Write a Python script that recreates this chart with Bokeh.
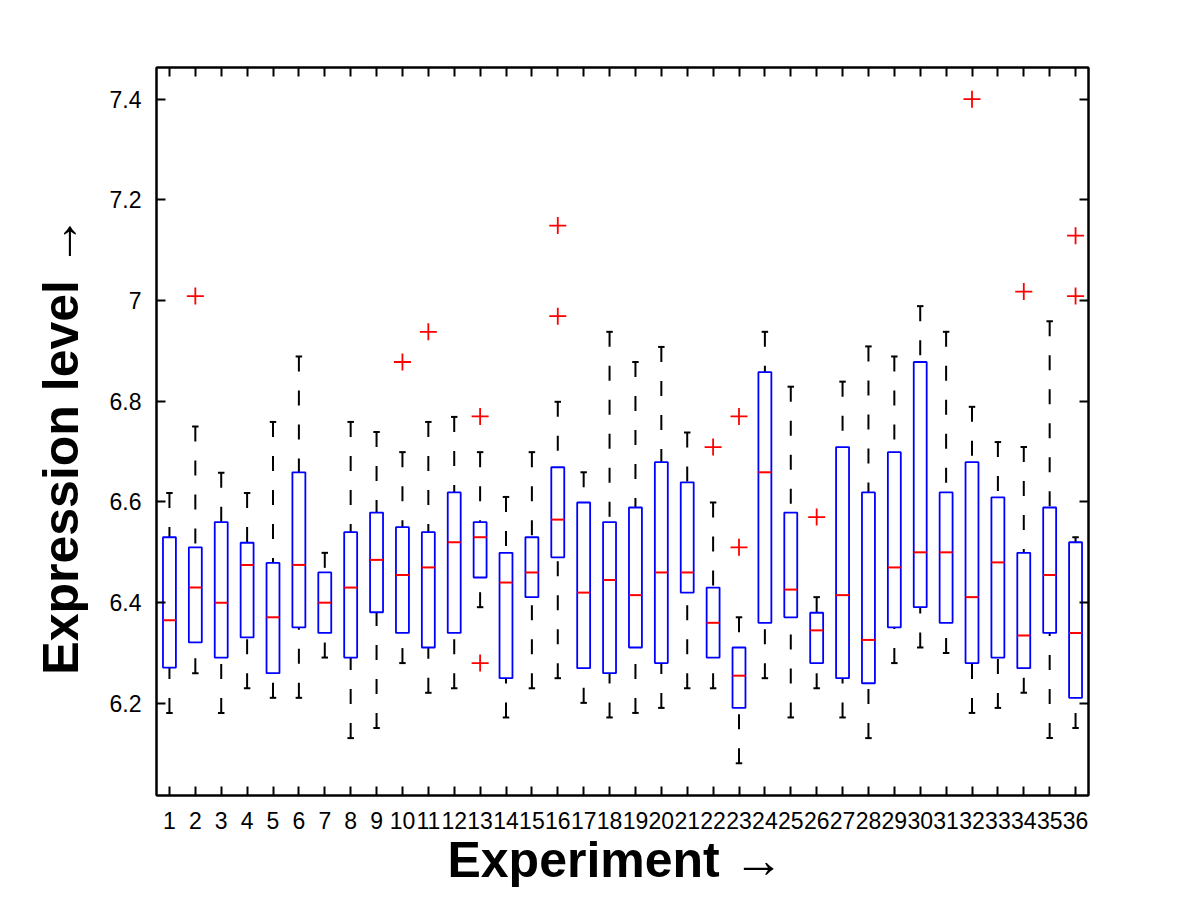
from bokeh.plotting import figure
from bokeh.models import Range1d, FixedTicker, LinearAxis, CustomJSTickFormatter
from bokeh.embed import file_html
from bokeh.resources import INLINE

# ---- data ----
experiments = list(range(1, 37))
q1 = [6.271, 6.321, 6.291, 6.331, 6.260, 6.351, 6.340, 6.291, 6.381, 6.340, 6.311, 6.340,
      6.450, 6.250, 6.411, 6.490, 6.270, 6.260, 6.311, 6.280, 6.420, 6.291, 6.191, 6.360,
      6.371, 6.280, 6.250, 6.240, 6.351, 6.391, 6.360, 6.280, 6.291, 6.270, 6.340, 6.211]
medians = [6.365, 6.430, 6.400, 6.475, 6.371, 6.475, 6.400, 6.430, 6.485, 6.455, 6.470, 6.520,
           6.530, 6.440, 6.460, 6.565, 6.420, 6.445, 6.415, 6.460, 6.460, 6.360, 6.255, 6.659,
           6.426, 6.345, 6.415, 6.326, 6.470, 6.500, 6.500, 6.411, 6.480, 6.335, 6.455, 6.340]
q3 = [6.530, 6.510, 6.560, 6.519, 6.479, 6.659, 6.460, 6.540, 6.579, 6.550, 6.540, 6.619,
      6.560, 6.499, 6.530, 6.669, 6.599, 6.560, 6.589, 6.679, 6.639, 6.430, 6.311, 6.858,
      6.579, 6.380, 6.709, 6.619, 6.699, 6.878, 6.619, 6.679, 6.609, 6.499, 6.589, 6.520]
whisker_low = [6.181, 6.260, 6.181, 6.230, 6.211, 6.211, 6.291, 6.131, 6.151, 6.280, 6.221, 6.230,
               6.391, 6.172, 6.230, 6.250, 6.201, 6.172, 6.181, 6.191, 6.230, 6.230, 6.081, 6.250,
               6.172, 6.230, 6.172, 6.131, 6.280, 6.311, 6.300, 6.181, 6.191, 6.221, 6.131, 6.151]
whisker_high = [6.618, 6.750, 6.658, 6.618, 6.759, 6.889, 6.499, 6.759, 6.739, 6.699, 6.759, 6.769,
                6.699, 6.610, 6.699, 6.799, 6.659, 6.938, 6.878, 6.908, 6.738, 6.599, 6.371, 6.938,
                6.829, 6.411, 6.839, 6.909, 6.889, 6.989, 6.938, 6.789, 6.719, 6.709, 6.959, 6.530]
outlier_x = [2, 10, 11, 13, 13, 16, 16, 22, 23, 23, 26, 32, 34, 36, 36]
outlier_y = [7.009, 6.878, 6.938, 6.770, 6.280, 7.149, 6.969, 6.709, 6.770, 6.510, 6.570, 7.400,
             7.018, 7.009, 7.129]
x_tick_labels = [str(i) for i in experiments]
y_ticks = [6.2, 6.4, 6.6, 6.8, 7.0, 7.2, 7.4]
x_title = "Experiment  \u2192"
y_title = "Expression level   \u2192"

# ---- layout ----
W, H = 1190, 896
X0, X1 = 0.5, 36.5
Y0, Y1 = 6.017, 7.463
FL, FR, FT, FB = 156, 1088, 67, 795  # frame edges in picture pixels

p = figure(width=W, height=H, output_backend="svg", toolbar_location=None,
           x_range=Range1d(X0, X1), y_range=Range1d(Y0, Y1),
           min_border_left=FL, min_border_right=W - FR,
           min_border_top=FT, min_border_bottom=H - FB)
p.grid.visible = False
p.background_fill_color = "white"
p.border_fill_color = "white"
p.outline_line_color = "black"
p.outline_line_width = 2

FONT = "Liberation Sans"

def style_axis(ax, show_labels):
    ax.major_tick_in = 9
    ax.major_tick_out = 0
    ax.minor_tick_line_color = None
    ax.major_tick_line_color = "black"
    ax.major_tick_line_width = 2
    ax.axis_line_color = "black"
    ax.axis_line_width = 2
    ax.major_label_text_font = FONT
    ax.major_label_text_font_size = "23px"
    ax.major_label_text_color = "black" if show_labels else None

p.xaxis.ticker = FixedTicker(ticks=experiments)
p.xaxis.major_label_overrides = {i: s for i, s in zip(experiments, x_tick_labels)}
p.yaxis.ticker = FixedTicker(ticks=y_ticks)
p.yaxis.formatter = CustomJSTickFormatter(code="return (Math.round(tick*10)/10).toString();")
style_axis(p.xaxis[0], True)
style_axis(p.yaxis[0], True)
p.xaxis.major_label_standoff = 16
p.yaxis.major_label_standoff = 15

for ax in (p.xaxis[0], p.yaxis[0]):
    ax.axis_label_text_font = FONT
    ax.axis_label_text_font_size = "50px"
    ax.axis_label_text_font_style = "bold"
    ax.axis_label_text_color = "black"
p.xaxis.axis_label = x_title
p.yaxis.axis_label = y_title
p.xaxis.axis_label_standoff = 0
p.yaxis.axis_label_standoff = 18

top_ax = LinearAxis(ticker=FixedTicker(ticks=experiments))
right_ax = LinearAxis(ticker=FixedTicker(ticks=y_ticks))
style_axis(top_ax, False)
style_axis(right_ax, False)
p.add_layout(top_ax, "above")
p.add_layout(right_ax, "right")

# ---- boxes ----
bw = 0.25
left = [x - bw for x in experiments]
right = [x + bw for x in experiments]
cl = [x - 0.125 for x in experiments]
cr = [x + 0.125 for x in experiments]

# whiskers (drawn from cap toward box)
p.segment(x0=experiments, y0=whisker_high, x1=experiments, y1=q3,
          line_color="black", line_width=2, line_dash="15 19")
p.segment(x0=experiments, y0=whisker_low, x1=experiments, y1=q1,
          line_color="black", line_width=2, line_dash="15 19")
# caps
p.segment(x0=cl, y0=whisker_high, x1=cr, y1=whisker_high, line_color="black", line_width=2)
p.segment(x0=cl, y0=whisker_low, x1=cr, y1=whisker_low, line_color="black", line_width=2)
# boxes
p.quad(left=left, right=right, bottom=q1, top=q3, fill_color=None,
       line_color="#0000FF", line_width=1.8)
# medians
p.segment(x0=left, y0=medians, x1=right, y1=medians, line_color="#FF0000", line_width=2)
# outliers
p.scatter(outlier_x, outlier_y, marker="cross", size=17, line_color="#FF0000", line_width=1.8)

open("out.html", "w").write(file_html(p, INLINE))
